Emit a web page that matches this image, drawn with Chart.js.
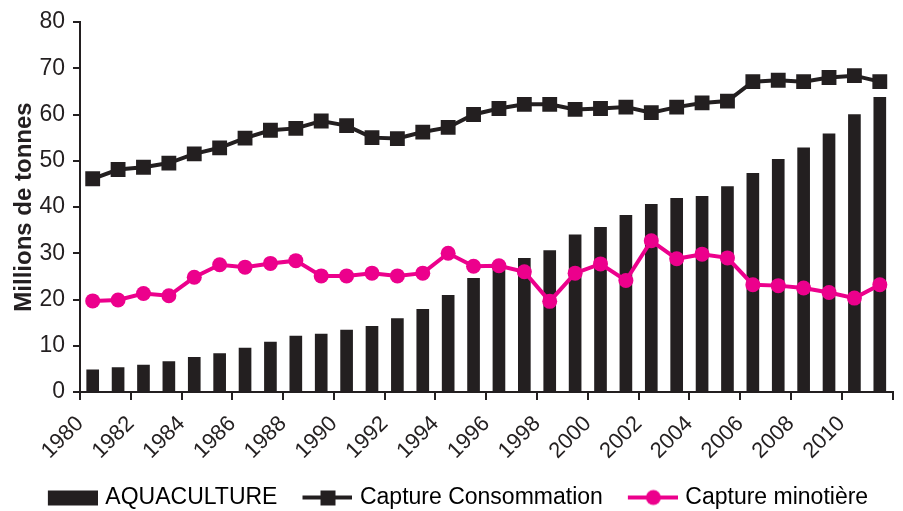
<!DOCTYPE html>
<html>
<head>
<meta charset="utf-8">
<script src="https://cdn.jsdelivr.net/npm/chart.js@4/dist/chart.umd.min.js"></script>
<style>
  html, body { margin: 0; padding: 0; background: #fff; }
  #wrap { width: 903px; height: 511px; }
</style>
</head>
<body>
<div id="wrap"><canvas id="chart"></canvas></div>
<script>
// years 1980..2011
const years = [1980, 1981, 1982, 1983, 1984, 1985, 1986, 1987, 1988, 1989,
  1990, 1991, 1992, 1993, 1994, 1995, 1996, 1997, 1998, 1999,
  2000, 2001, 2002, 2003, 2004, 2005, 2006, 2007, 2008, 2009,
  2010, 2011];

// millions de tonnes
const aquaculture = [4.8, 5.3, 5.8, 6.6, 7.5, 8.3, 9.5, 10.8, 12.1, 12.5,
  13.4, 14.2, 15.9, 17.9, 20.9, 24.6, 27.6, 28.9, 30.6, 34.0,
  35.6, 38.2, 40.6, 41.9, 42.3, 44.4, 47.3, 50.3, 52.8, 55.8,
  60.0, 63.7];
const captureConsommation = [46.1, 48.1, 48.6, 49.5, 51.5, 52.8, 54.9, 56.6, 57.0, 58.6,
  57.6, 55.0, 54.8, 56.2, 57.2, 60.0, 61.3, 62.2, 62.2, 61.1,
  61.3, 61.6, 60.4, 61.6, 62.5, 62.9, 67.1, 67.4, 67.1, 68.0,
  68.4, 67.1];
const captureMinotiere = [19.7, 19.9, 21.3, 20.8, 24.8, 27.5, 27.0, 27.8, 28.4, 25.1,
  25.1, 25.7, 25.1, 25.7, 30.0, 27.2, 27.3, 26.0, 19.6, 25.7,
  27.7, 24.1, 32.7, 28.8, 29.8, 29.0, 23.2, 23.0, 22.5, 21.5,
  20.3, 23.2];

const yTicks = [0, 10, 20, 30, 40, 50, 60, 70, 80];
const seriesNames = ["AQUACULTURE", "Capture Consommation", "Capture minotière"];

const ink = "#231F20";
const pink = "#EC008C";
const font = "'Liberation Sans', Arial, sans-serif";

// each year sits in the middle of its slot on the axis
const toPoints = (vals) => vals.map((v, i) => ({ x: years[i] + 0.5, y: v }));

// legend symbols, drawn on the right part of a wider canvas to leave a gap
const SYM_W = 66;
function legendSymbol(color, shape) {
  const c = document.createElement("canvas");
  c.width = SYM_W + 8;
  c.height = 18;
  const g = c.getContext("2d");
  const x0 = SYM_W - 42;
  g.strokeStyle = color;
  g.fillStyle = color;
  if (shape === "bar") {
    g.fillRect(x0, 2, 50, 15);
    return c;
  }
  g.lineWidth = 4;
  g.beginPath();
  g.moveTo(x0, 9);
  g.lineTo(x0 + 51, 9);
  g.stroke();
  if (shape === "rect") {
    g.fillRect(x0 + 18, 2, 15, 15);
  } else {
    g.beginPath();
    g.arc(x0 + 25.5, 9, 7.5, 0, Math.PI * 2);
    g.fill();
  }
  return c;
}

const symbols = [legendSymbol(ink, "bar"), legendSymbol(ink, "rect"), legendSymbol(pink, "circle")];

new Chart(document.getElementById("chart"), {
  type: "bar",
  data: {
    datasets: [
      {
        label: seriesNames[0],
        data: toPoints(aquaculture),
        backgroundColor: ink,
        barThickness: 12,
        order: 2,
      },
      {
        type: "line",
        label: seriesNames[1],
        data: toPoints(captureConsommation),
        borderColor: ink,
        backgroundColor: ink,
        borderWidth: 4,
        pointStyle: "rect",
        pointRadius: 10.5,
        pointBorderWidth: 0,
        tension: 0,
        order: 1,
      },
      {
        type: "line",
        label: seriesNames[2],
        data: toPoints(captureMinotiere),
        borderColor: pink,
        backgroundColor: pink,
        borderWidth: 4,
        pointStyle: "circle",
        pointRadius: 7.5,
        pointBorderWidth: 0,
        tension: 0,
        order: 0,
      },
    ],
  },
  options: {
    responsive: true,
    maintainAspectRatio: false,
    animation: false,
    layout: { padding: { top: 22, right: 7, left: 0, bottom: -8 } },
    plugins: {
      tooltip: { enabled: false },
      legend: {
        position: "bottom",
        labels: {
          usePointStyle: true,
          pointStyleWidth: SYM_W,
          boxHeight: 15,
          padding: 5,
          color: ink,
          font: { family: font, size: 23 },
          generateLabels: (chart) =>
            chart.data.datasets.map((ds, i) => ({
              text: ds.label,
              fillStyle: ink,
              strokeStyle: ink,
              lineWidth: 0,
              pointStyle: symbols[i],
              hidden: false,
              datasetIndex: i,
            })),
        },
      },
    },
    scales: {
      x: {
        type: "linear",
        offset: false,
        min: years[0],
        max: years[years.length - 1] + 1,
        afterFit: (scale) => {
          scale.height = 89;
          scale.paddingRight = 0;
        },
        afterBuildTicks: (scale) => {
          const t = [];
          for (let y = years[0]; y <= years[years.length - 1] + 1; y += 2) t.push({ value: y });
          scale.ticks = t;
        },
        grid: { offset: false, drawOnChartArea: false, color: ink, lineWidth: 2, tickLength: 8 },
        border: { color: ink, width: 2 },
        ticks: {
          autoSkip: false,
          maxRotation: 45,
          minRotation: 45,
          color: ink,
          padding: 11,
          font: { family: font, size: 22 },
          callback: (v) => (v > years[years.length - 1] ? "" : String(v)),
        },
      },
      y: {
        min: yTicks[0],
        max: yTicks[yTicks.length - 1],
        afterFit: (scale) => { scale.width = 80; },
        afterBuildTicks: (scale) => { scale.ticks = yTicks.map((v) => ({ value: v })); },
        grid: { drawOnChartArea: false, color: ink, lineWidth: 2, tickLength: 7 },
        border: { color: ink, width: 2 },
        ticks: {
          color: ink,
          padding: 8,
          font: { family: font, size: 23 },
        },
        title: {
          display: true,
          text: "Millions de tonnes",
          color: ink,
          padding: { top: 10, bottom: 0 },
          font: { family: font, size: 24, weight: "bold" },
        },
      },
    },
  },
});
</script>
</body>
</html>
